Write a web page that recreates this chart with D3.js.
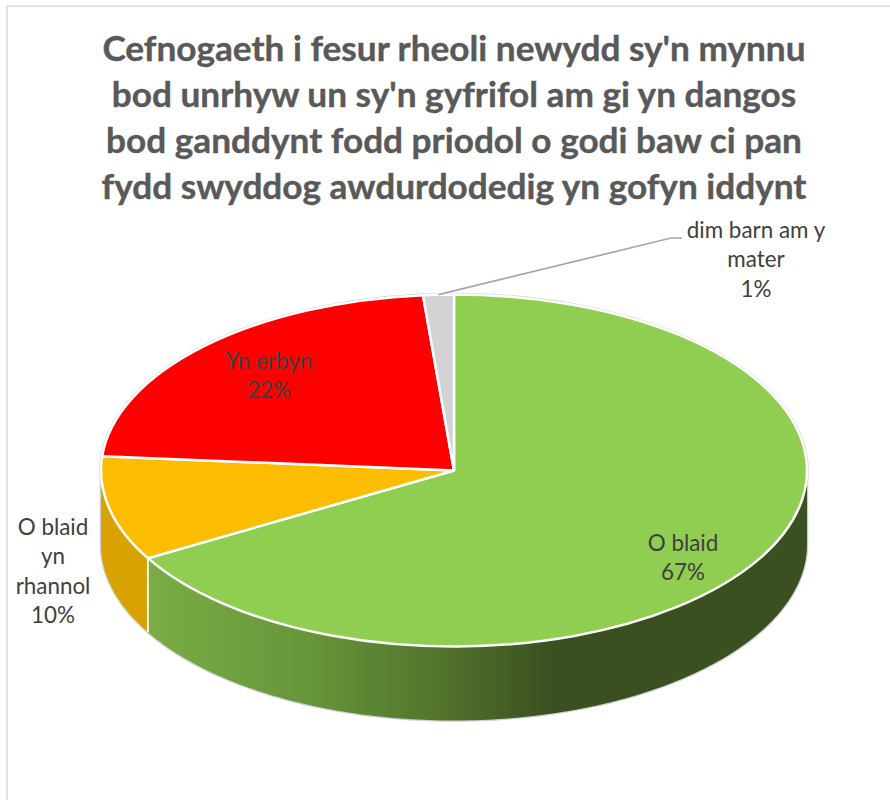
<!DOCTYPE html>
<html lang="en">
<head>
<meta charset="UTF-8">
<title>Cefnogaeth</title>
<script src="https://d3js.org/d3.v7.min.js"></script>
<style>
  html, body { margin: 0; padding: 0; background: #fff; }
  svg { display: block; }
  text { font-family: Lato, "Open Sans", sans-serif; }
</style>
</head>
<body>
<svg id="chart" width="890" height="800"></svg>
<script>
const categories = ["O blaid", "O blaid yn rhannol", "Yn erbyn", "dim barn am y mater"];
const shareValues = [66.7, 9.6, 22.3, 1.4];
const shareLabels = ["67%", "10%", "22%", "1%"];
const sliceColors = ["#8FCE50", "#FCBD00", "#FF0000", "#D3D3D3"];
const sideColors = ["url(#greenSide)", "#D8A300", "#C00000", "#AAAAAA"];
const titleLines = [
  "Cefnogaeth i fesur rheoli newydd sy'n mynnu",
  "bod unrhyw un sy'n gyfrifol am gi yn dangos",
  "bod ganddynt fodd priodol o godi baw ci pan",
  "fydd swyddog awdurdodedig yn gofyn iddynt"
];

const svg = d3.select("#chart");
const cx = 454, cy = 470.5, rx = 353, ry = 176, depth = 74;

// frame of the chart box, only top and left are in the crop
svg.append("path")
  .attr("d", d3.line()([[7, 800], [7, 6], [890, 6]]))
  .attr("fill", "none")
  .attr("stroke", "#dcdcdc")
  .attr("stroke-width", 1.7);

// title
svg.append("g").selectAll("text").data(titleLines).join("text")
  .attr("x", 454)
  .attr("y", (d, i) => 61 + i * 46)
  .attr("text-anchor", "middle")
  .attr("font-size", 35.2)
  .attr("font-weight", 700)
  .attr("fill", "#595959")
  .attr("stroke", "#595959")
  .attr("stroke-width", 0.4)
  .text(d => d);

const grad = svg.append("defs").append("linearGradient")
  .attr("id", "greenSide")
  .attr("gradientUnits", "userSpaceOnUse")
  .attr("x1", 147).attr("x2", 560)
  .attr("y1", 0).attr("y2", 0);
grad.append("stop").attr("offset", "0%").attr("stop-color", "#7AAD44");
grad.append("stop").attr("offset", "40%").attr("stop-color", "#66953A");
grad.append("stop").attr("offset", "75%").attr("stop-color", "#4F6F2B");
grad.append("stop").attr("offset", "98%").attr("stop-color", "#3A5020");

const pie = d3.pie().sort(null).value(d => d);
const slices = pie(shareValues);

// angle 0 is the top of the pie, going clockwise like d3.arc
const px = a => cx + rx * Math.sin(a);
const py = a => cy - ry * Math.cos(a);

function wallPath(a0, a1) {
  const n = Math.max(2, Math.ceil((a1 - a0) * 60));
  const angles = d3.range(n + 1).map(i => a0 + (a1 - a0) * i / n);
  const top = angles.map(a => [px(a), py(a)]);
  const bottom = angles.slice().reverse().map(a => [px(a), py(a) + depth]);
  return d3.line()(top.concat(bottom)) + "Z";
}

// outer silhouette, thin grey edge around top and wall
svg.append("path")
  .attr("d", wallPath(Math.PI / 2, Math.PI * 1.5))
  .attr("fill", "#fff")
  .attr("stroke", "#cfcfcf")
  .attr("stroke-width", 2.5);
svg.append("ellipse")
  .attr("cx", cx).attr("cy", cy)
  .attr("rx", rx + 1).attr("ry", ry + 1)
  .attr("fill", "#fff")
  .attr("stroke", "#cfcfcf")
  .attr("stroke-width", 1.5);

// walls, only the part of each slice that faces the viewer
const walls = svg.append("g");
const seams = svg.append("g");
slices.forEach((s, i) => {
  const a0 = Math.max(s.startAngle, Math.PI / 2);
  const a1 = Math.min(s.endAngle, Math.PI * 1.5);
  if (a1 <= a0) return;
  walls.append("path")
    .attr("d", wallPath(a0, a1))
    .attr("fill", sideColors[i]);
  // white seam where a slice edge comes to the front
  if (s.endAngle < Math.PI * 1.5) {
    seams.append("line")
      .attr("x1", px(s.endAngle)).attr("x2", px(s.endAngle))
      .attr("y1", py(s.endAngle)).attr("y2", py(s.endAngle) + depth)
      .attr("stroke", "#f4f5ef")
      .attr("stroke-width", 2);
  }
});

// top face: d3.arc squashed into an ellipse
const arc = d3.arc().innerRadius(0).outerRadius(rx);
svg.append("g")
  .attr("transform", `translate(${cx},${cy}) scale(1,${ry / rx})`)
  .selectAll("path").data(slices).join("path")
  .attr("d", arc)
  .attr("fill", (d, i) => sliceColors[i])
  .attr("stroke", "#fff")
  .attr("stroke-width", 2.5)
  .attr("stroke-linejoin", "round")
  .attr("vector-effect", "non-scaling-stroke");

// leader for the small slice
const grey = slices[3];
const mid = (grey.startAngle + grey.endAngle) / 2;
svg.append("path")
  .attr("d", d3.line()([[px(mid), py(mid)], [671, 238], [682, 238]]))
  .attr("fill", "none")
  .attr("stroke", "#a6a6a6")
  .attr("stroke-width", 1.7);

// data labels, Excel wraps them by hand so the lines are placed here
const labelLines = [
  { x: 683, y: 551, lines: ["O blaid", shareLabels[0]] },
  { x: 53, y: 535, lines: ["O blaid", "yn", "rhannol", shareLabels[1]] },
  { x: 269, y: 369, lines: ["Yn erbyn", shareLabels[2]] },
  { x: 756, y: 238, lines: ["dim barn am y", "mater", shareLabels[3]] }
];
const labels = svg.append("g");
labelLines.forEach(l => {
  labels.selectAll(null).data(l.lines).join("text")
    .attr("x", l.x)
    .attr("y", (d, i) => l.y + i * 29.4)
    .attr("text-anchor", "middle")
    .attr("font-size", 22.4)
    .attr("fill", "#404040")
    .text(d => d);
});
</script>
</body>
</html>
